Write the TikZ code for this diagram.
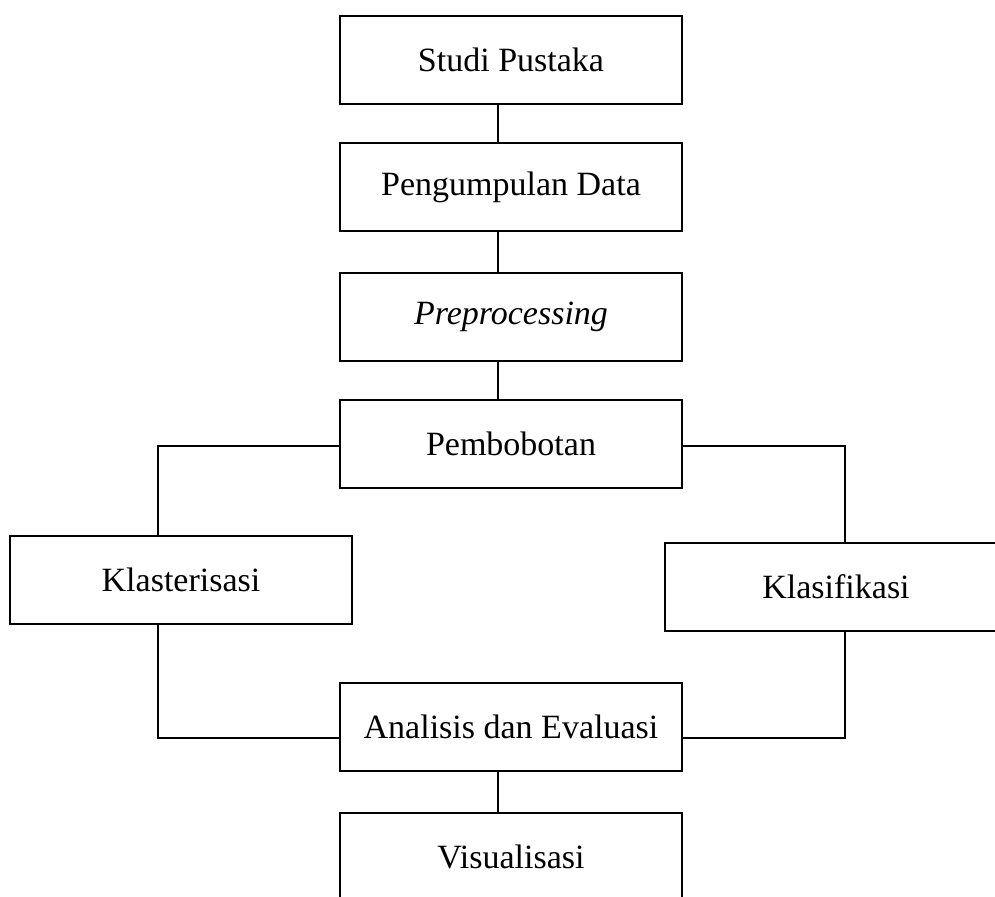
\documentclass[tikz,border=0pt]{standalone}
\usepackage{fontspec}
\setmainfont{Liberation Serif}
\usetikzlibrary{positioning}

\tikzset{
  tahap/.style={draw,line width=1.3pt,minimum width=256.5pt,minimum height=66pt,
    inner sep=0pt,font=\fontsize{25.5}{30}\selectfont},
  garis/.style={line width=0.8pt}
}

\begin{document}
\begin{tikzpicture}[x=0.75pt,y=-0.75pt,node distance=95.25pt]
\useasboundingbox (0,0) rectangle (995,896);
\clip (0,0) rectangle (995,896);
\coordinate (tengah) at (498,0);
\coordinate (kiri) at (158,0);
\coordinate (kanan) at (845,0);
\node[tahap] (studi) at (511,60) {Studi Pustaka};
\node[tahap] (kumpul) [below of=studi] {Pengumpulan Data};
\node[tahap] (prepro) [below of=kumpul,node distance=97.5pt] {\textit{Preprocessing}};
\node[tahap] (bobot) [below of=prepro] {Pembobotan};
\node[tahap] (klaster) at (181,580) {Klasterisasi};
\node[tahap] (klasif) at (836,587) {Klasifikasi};
\node[tahap] (analisis) [below of=bobot,node distance=212.25pt] {Analisis dan Evaluasi};
\node[tahap] (visual) [below of=analisis,node distance=97.5pt] {Visualisasi};
\draw[garis] (studi.south -| tengah) -- (kumpul.north -| tengah);
\draw[garis] (kumpul.south -| tengah) -- (prepro.north -| tengah);
\draw[garis] (prepro.south -| tengah) -- (bobot.north -| tengah);
\draw[garis] ([yshift=-1.5pt]bobot.west) -| (kiri |- klaster.north);
\draw[garis] ([yshift=-1.5pt]bobot.east) -| (kanan |- klasif.north);
\draw[garis] (kiri |- klaster.south) |- ([yshift=-8.25pt]analisis.west);
\draw[garis] (kanan |- klasif.south) |- ([yshift=-8.25pt]analisis.east);
\draw[garis] (analisis.south -| tengah) -- (visual.north -| tengah);
\end{tikzpicture}
\end{document}
